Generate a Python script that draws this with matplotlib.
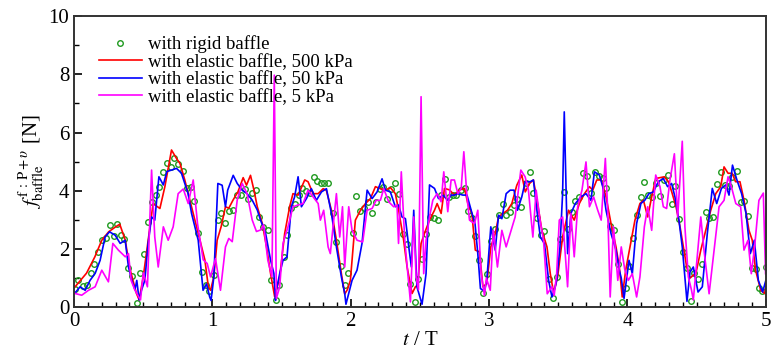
import numpy as np
import matplotlib
matplotlib.use("Agg")
import matplotlib.pyplot as plt
from matplotlib.ticker import MultipleLocator

plt.rcParams['font.family'] = ['Liberation Serif', 'DejaVu Serif']
plt.rcParams['mathtext.fontset'] = 'stix'

    #rigid baffle (circles)
rigid_t = [0.007, 0.031, 0.063, 0.092, 0.12, 0.145, 0.173, 0.20, 0.229, 0.256, 0.285, 0.313, 0.34, 0.364, 0.393, 0.422, 0.453, 0.478,
           0.504, 0.535, 0.56, 0.59, 0.616, 0.645, 0.67, 0.697, 0.723, 0.752, 0.784, 0.813, 0.842, 0.868, 0.897, 0.926, 0.953, 0.978,
           1.01, 1.04, 1.063, 1.094, 1.118, 1.147, 1.175, 1.204, 1.233, 1.257, 1.284, 1.316, 1.336, 1.368, 1.398, 1.426, 1.456,
           1.481, 1.514, 1.54, 1.57, 1.594, 1.623, 1.65, 1.679, 1.708, 1.735, 1.759, 1.783, 1.807, 1.836, 1.872, 1.896, 1.928, 1.956, 1.983,
           2.014, 2.041, 2.07, 2.097, 2.126, 2.152, 2.181, 2.208, 2.235, 2.264, 2.293, 2.32, 2.349, 2.378, 2.404, 2.428, 2.462,
           2.484, 2.513, 2.544, 2.573, 2.6, 2.627, 2.653, 2.682, 2.708, 2.737, 2.764, 2.793, 2.822, 2.846, 2.875, 2.9, 2.93, 2.958,
           2.983, 3.012, 3.04, 3.068, 3.097, 3.123, 3.152, 3.179, 3.205, 3.232, 3.263, 3.292, 3.316, 3.345, 3.374, 3.4, 3.43, 3.459,
           3.488, 3.512, 3.543, 3.57, 3.597, 3.623, 3.652, 3.68, 3.707, 3.735, 3.764, 3.793, 3.822, 3.848, 3.875, 3.9, 3.93, 3.959,
           3.989, 4.013, 4.042, 4.066, 4.095, 4.122, 4.15, 4.178, 4.208, 4.235, 4.264, 4.29, 4.319, 4.343, 4.372, 4.399, 4.428, 4.457,
           4.481, 4.51, 4.541, 4.565, 4.589, 4.621, 4.65, 4.674, 4.705, 4.734, 4.759, 4.791, 4.82, 4.842, 4.871, 4.898, 4.926, 4.95,
           4.974, 5.0]
rigid_f = [0.61, 0.93, 0.73, 0.76, 1.18, 1.48, 1.89, 2.3, 2.39, 2.84, 2.44, 2.87, 2.47, 2.33, 1.34, 1.06, 0.16, 1.19,
           1.83, 2.91, 3.61, 3.87, 4.14, 4.66, 4.95, 4.83, 5.11, 4.93, 4.67, 4.1, 4.14, 3.64, 2.55, 1.20, 0.76, 0.56,
           1.1, 2.99, 3.24, 2.89, 3.29, 3.33, 3.84, 3.87, 4.07, 3.72, 3.93, 4.04, 3.09, 2.75, 2.66, 0.94, 0.25,
           0.75, 1.74, 2.47, 3.42, 3.56, 3.87, 4.11, 3.99, 3.93, 4.48, 4.33, 4.25, 4.27, 4.28, 3.22, 2.25, 1.41, 0.75, 1.18,
           2.55, 3.83, 3.31, 3.39, 3.6, 3.24, 3.6, 4.07, 4.14, 3.7, 4.06, 4.25, 3.9, 2.51, 2.16, 0.81, 0.17,
           0.96, 1.67, 2.52, 3.1, 3.08, 3.01, 3.84, 4.41, 3.8, 3.87, 3.87, 4.03, 4.1, 3.3, 3.05, 2.44, 1.62, 0.5,
           1.13, 2.29, 2.67, 3.17, 3.56, 3.18, 3.27, 3.51, 3.71, 3.45, 4.28, 4.63, 3.91, 3.05, 2.48, 2.61, 0.96, 0.3,
           1.04, 2.33, 3.94, 2.68, 3.26, 3.66, 3.79, 4.6, 4.52, 3.92, 4.65, 4.52, 4.45, 4.08, 2.8, 2.66, 1.47, 0.18,
           0.67, 1.4, 2.39, 3.16, 3.77, 4.3, 3.85, 3.79, 4.25, 3.83, 4.37, 4.54, 3.56, 4.16, 3.03, 1.88, 1.33, 0.21,
           1.17, 0.98, 1.49, 3.27, 3.08, 3.1, 4.22, 4.65, 4.19, 4.15, 4.47, 4.69, 3.6, 3.64, 3.12, 1.33, 1.3, 0.65,
           0.54, 1.37]

    #elastic baffle, 500 kPa (red)
e500_t = [0.007, 0.09, 0.15, 0.20, 0.25, 0.30, 0.33, 0.37, 0.40, 0.45, 0.47, 0.50, 0.535, 0.571, 0.62, 0.656, 0.704, 0.74, 0.765,
          0.80, 0.849, 0.897, 0.945, 0.97, 0.986, 1.01, 1.034, 1.063, 1.094, 1.118, 1.15, 1.184, 1.222, 1.246, 1.275, 1.30, 1.324,
          1.36, 1.391, 1.42, 1.45, 1.462, 1.486, 1.522, 1.558, 1.582, 1.619, 1.667, 1.691, 1.727, 1.764, 1.80, 1.823, 1.86, 1.896,
          1.932, 1.956, 1.975, 1.997, 2.033, 2.07, 2.106, 2.142, 2.178, 2.214, 2.25, 2.286, 2.322, 2.346, 2.382, 2.407, 2.443, 2.467,
          2.484, 2.508, 2.532, 2.569, 2.605, 2.624, 2.653, 2.677, 2.713, 2.749, 2.786, 2.822, 2.846, 2.875, 2.90, 2.93, 2.955, 2.983,
          3.012, 3.044, 3.068, 3.10, 3.133, 3.164, 3.20, 3.236, 3.261, 3.292, 3.32, 3.35, 3.381, 3.418, 3.442, 3.466, 3.495, 3.531,
          3.574, 3.615, 3.652, 3.689, 3.725, 3.749, 3.778, 3.81, 3.845, 3.881, 3.917, 3.941, 3.962, 3.987, 4.018, 4.054, 4.09, 4.115,
          4.146, 4.175, 4.204, 4.235, 4.267, 4.296, 4.32, 4.351, 4.38, 4.404, 4.428, 4.452, 4.476, 4.494, 4.53, 4.566, 4.602, 4.638,
          4.674, 4.698, 4.727, 4.757, 4.781, 4.813, 4.842, 4.878, 4.902, 4.926, 4.963, 4.992, 5.0]
e500_f = [0.70, 1.17, 1.73, 2.30, 2.59, 2.76, 2.85, 2.30, 1.38, 0.48, 0.25, 1.05, 2.3, 3.56, 3.39, 4.14, 5.40, 5.11, 4.94,
          4.37, 3.45, 2.54, 1.63, 0.71, 0.58, 1.04, 2.3, 2.77, 3.45, 3.40, 3.69, 3.96, 4.45, 4.19, 4.53, 4.02, 3.45,
          2.88, 2.07, 1.16, 0.35, 0.58, 1.04, 2.53, 3.45, 3.9, 3.85, 4.37, 4.31, 3.9, 3.9, 4.07, 4.02, 3.33, 2.3,
          1.15, 0.45, 0.6, 0.92, 2.99, 3.33, 3.56, 3.73, 4.14, 4.07, 4.02, 4.11, 3.9, 3.33, 2.3, 1.38, 0.47, 0.7,
          0.76, 2.19, 2.53, 2.99, 3.33, 3.56, 3.22, 4.08, 4.03, 3.85, 4.03, 4.08, 3.56, 3.22, 1.96, 1.9, 0.7, 0.81,
          2.07, 2.53, 3.1, 3.22, 3.33, 3.56, 4.19, 4.54, 3.96, 4.25, 4.37, 3.56, 2.64, 2.07, 1.15, 0.5, 1.04, 2.41,
          3.33, 2.99, 3.56, 3.9, 4.14, 4.02, 4.37, 4.37, 3.79, 2.87, 2.07, 1.38, 0.35, 1.27, 2.07, 2.99, 3.56, 3.68,
          3.1, 3.79, 4.42, 4.45, 4.48, 4.31, 3.96, 3.45, 2.76, 2.07, 1.38, 1.0, 1.1, 1.15, 1.96, 2.64, 3.33, 3.9,
          4.14, 4.82, 4.6, 4.6, 4.31, 4.31, 3.68, 2.64, 2.3, 1.27, 0.58, 0.47, 0.7]

    #elastic baffle, 50 kPa (blue)
e50_t = [0.007, 0.043, 0.08, 0.115, 0.152, 0.188, 0.224, 0.256, 0.297, 0.333, 0.369, 0.393, 0.417, 0.44, 0.453, 0.47, 0.487, 0.511,
         0.535, 0.56, 0.583, 0.613, 0.645, 0.67, 0.704, 0.74, 0.776, 0.824, 0.849, 0.897, 0.932, 0.957, 0.98, 0.99, 1.01, 1.039,
         1.07, 1.094, 1.11, 1.15, 1.179, 1.215, 1.25, 1.287, 1.324, 1.347, 1.384, 1.42, 1.444, 1.456, 1.462, 1.486, 1.51, 1.539,
         1.57, 1.594, 1.619, 1.643, 1.679, 1.715, 1.751, 1.788, 1.824, 1.86, 1.896, 1.932, 1.956, 1.965, 2.009, 2.045, 2.081, 2.118,
         2.154, 2.19, 2.226, 2.25, 2.286, 2.322, 2.346, 2.37, 2.395, 2.419, 2.438, 2.455, 2.478, 2.515, 2.544, 2.569, 2.605, 2.634,
         2.665, 2.701, 2.725, 2.749, 2.774, 2.81, 2.84, 2.87, 2.898, 2.918, 2.937, 2.966, 2.983, 3.012, 3.044, 3.068, 3.092, 3.123,
         3.152, 3.18, 3.205, 3.236, 3.261, 3.297, 3.32, 3.345, 3.37, 3.4, 3.43, 3.454, 3.478, 3.488, 3.512, 3.531, 3.543, 3.567,
         3.591, 3.623, 3.664, 3.7, 3.736, 3.761, 3.797, 3.821, 3.845, 3.881, 3.917, 3.941, 3.955, 3.975, 4.011, 4.035, 4.066, 4.097,
         4.126, 4.155, 4.187, 4.223, 4.259, 4.29, 4.319, 4.343, 4.372, 4.396, 4.43, 4.452, 4.476, 4.51, 4.541, 4.577, 4.613, 4.645,
         4.679, 4.71, 4.734, 4.759, 4.791, 4.825, 4.857, 4.888, 4.917, 4.946, 4.977, 5.0]
e50_f = [0.49, 0.70, 0.58, 0.92, 1.16, 1.61, 2.41, 2.59, 2.47, 2.19, 2.30, 1.38, 0.92, 0.6, 0.92, 0.25, 0.58, 0.92,
         2.19, 3.1, 2.99, 4.48, 4.2, 4.66, 4.71, 4.77, 4.6, 3.9, 3.22, 2.3, 0.58, 0.8, 0.35, 0.23, 1.04, 4.25,
         4.19, 3.45, 4.02, 4.53, 4.25, 4.02, 3.9, 3.68, 3.34, 3.0, 2.54, 1.62, 1.16, 0.23, 0.58, 1.15, 1.61, 1.73,
         3.45, 3.79, 4.48, 3.45, 3.73, 4.07, 3.67, 3.96, 4.07, 3.22, 2.07, 1.04, 0.47, 0.1, 0.92, 1.27, 2.19, 4.02,
         3.73, 3.96, 4.41, 4.02, 3.96, 3.45, 3.51, 3.1, 3.04, 2.07, 1.38, 3.33, 0.7, 0.1, 1.15, 4.2, 4.08, 3.73,
         3.85, 3.67, 3.85, 3.85, 3.9, 3.85, 3.85, 3.33, 2.87, 1.84, 0.64, 0.55, 0.92, 2.76, 1.96, 3.16, 3.04, 3.9,
         4.02, 4.02, 3.33, 3.79, 4.31, 4.31, 4.37, 3.33, 2.41, 2.18, 0.92, 0.35, 0.7, 0.92, 2.07, 3.9, 6.71, 1.84,
         3.22, 3.56, 3.79, 3.9, 3.67, 4.65, 4.54, 4.14, 3.33, 2.53, 1.96, 1.27, 1.0, 0.3, 1.61, 1.15, 2.87, 3.56,
         3.68, 3.9, 3.96, 4.31, 4.42, 4.14, 4.25, 3.79, 2.99, 2.07, 0.2, 1.21, 1.38, 0.52, 0.7, 2.53, 4.08, 3.56,
         4.08, 4.2, 3.85, 4.88, 4.37, 3.9, 3.22, 1.84, 2.3, 0.92, 0.52, 0.92]

    #elastic baffle, 5 kPa (magenta)
e5_t = [0.007, 0.055, 0.104, 0.152, 0.20, 0.248, 0.28, 0.32, 0.37, 0.393, 0.412, 0.44, 0.48, 0.50, 0.53, 0.56, 0.583, 0.608,
        0.645, 0.68, 0.716, 0.752, 0.789, 0.825, 0.861, 0.892, 0.933, 0.962, 0.986, 1.022, 1.058, 1.094, 1.118, 1.143, 1.179,
        1.215, 1.25, 1.287, 1.318, 1.347, 1.37, 1.40, 1.43, 1.447, 1.462, 1.486, 1.51, 1.546, 1.582, 1.619, 1.655, 1.691, 1.727,
        1.764, 1.78, 1.804, 1.836, 1.852, 1.867, 1.896, 1.92, 1.94, 1.956, 1.985, 2.009, 2.045, 2.086, 2.118, 2.154, 2.183, 2.214,
        2.238, 2.274, 2.31, 2.334, 2.345, 2.365, 2.39, 2.419, 2.431, 2.455, 2.472, 2.489, 2.508, 2.527, 2.544, 2.569, 2.593, 2.624,
        2.653, 2.672, 2.701, 2.725, 2.749, 2.774, 2.798, 2.817, 2.84, 2.858, 2.894, 2.918, 2.942, 2.966, 2.98, 3.008, 3.03, 3.06,
        3.092, 3.123, 3.152, 3.188, 3.229, 3.26, 3.284, 3.316, 3.34, 3.368, 3.393, 3.42, 3.454, 3.47, 3.488, 3.507, 3.531, 3.567,
        3.591, 3.615, 3.64, 3.671, 3.7, 3.725, 3.755, 3.785, 3.81, 3.84, 3.857, 3.875, 3.899, 3.93, 3.955, 3.98, 4.006, 4.035,
        4.066, 4.09, 4.122, 4.146, 4.175, 4.204, 4.235, 4.259, 4.283, 4.307, 4.339, 4.363, 4.396, 4.415, 4.44, 4.463, 4.476, 4.53,
        4.553, 4.59, 4.626, 4.662, 4.698, 4.727, 4.751, 4.783, 4.818, 4.842, 4.871, 4.895, 4.919, 4.95, 4.982, 4.998]
e5_f = [0.47, 0.41, 0.58, 0.70, 1.27, 0.87, 2.19, 1.96, 1.73, 1.84, 0.92, 0.58, 0.25, 1.18, 0.70, 4.71, 2.41, 1.38,
        2.76, 2.3, 2.76, 3.9, 4.06, 3.56, 4.37, 2.87, 1.63, 1.5, 1.04, 1.67, 0.58, 2.07, 2.36, 2.25, 3.68,
        4.25, 3.9, 3.0, 2.6, 2.65, 2.83, 1.62, 1.04, 7.97, 0.3, 0.7, 2.19, 2.76, 3.45, 3.51, 3.56, 4.02, 3.79,
        3.56, 2.99, 3.33, 2.07, 1.84, 2.53, 3.9, 2.41, 3.45, 1.38, 3.45, 2.64, 2.3, 2.24, 3.33, 3.39, 3.67, 3.67,
        4.07, 3.62, 3.45, 3.51, 2.19, 4.65, 2.3, 0.81, 0.18, 3.1, 1.04, 0.6, 7.23, 1.15, 2.3, 3.1, 3.68, 3.9,
        3.62, 4.65, 3.28, 4.37, 4.37, 3.9, 4.08, 5.34, 3.79, 2.99, 2.87, 3.33, 1.15, 0.4, 1.0, 0.58, 2.64, 1.38,
        2.64, 2.07, 2.53, 3.1, 4.71, 4.48, 4.02, 2.41, 4.02, 2.99, 2.3, 0.46, 0.7, 0.4, 1.15, 2.99, 3.1, 0.7,
        3.22, 1.73, 3.45, 4.02, 4.99, 3.45, 3.79, 3.33, 2.99, 5.11, 3.33, 0.35, 2.76, 0.92, 2.07, 1.3, 0.92, 1.15,
        0.35, 1.04, 2.76, 3.45, 2.64, 4.54, 4.14, 3.45, 3.39, 4.37, 5.27, 3.1, 5.7, 2.76, 1.04, 0.58, 0.25, 3.1,
        1.96, 0.46, 1.96, 3.45, 3.67, 4.48, 4.14, 3.56, 3.45, 1.96, 2.3, 1.15, 2.07, 3.67, 3.92, 1.15]

labels = ["with rigid baffle", "with elastic baffle, 500 kPa",
          "with elastic baffle, 50 kPa", "with elastic baffle, 5 kPa"]

fig = plt.figure(figsize=(7.72, 3.58), dpi=100)
ax = fig.add_axes([0.096, 0.142, 0.896, 0.813])

ax.plot(rigid_t, rigid_f, 'o', ms=4, mfc='none', mec='#1f9a1f', mew=1.0, label=labels[0])
ax.plot(e500_t, e500_f, color='#ff0000', lw=1.2, label=labels[1])
ax.plot(e50_t, e50_f, color='#0000ff', lw=1.2, label=labels[2])
ax.plot(e5_t, e5_f, color='#ff00ff', lw=1.2, label=labels[3])

ax.set_xlim(0, 5)
ax.set_ylim(0, 10)
ax.xaxis.set_major_locator(MultipleLocator(1))
ax.xaxis.set_minor_locator(MultipleLocator(0.1))
ax.yaxis.set_major_locator(MultipleLocator(2))
ax.yaxis.set_minor_locator(MultipleLocator(1))
ax.tick_params(which='both', direction='in', labelsize=15, colors='black')
ax.tick_params(which='major', length=6, width=1.2)
ax.tick_params(which='minor', length=3.5, width=1.0)
for sp in ax.spines.values():
    sp.set_linewidth(1.4)
    sp.set_color('#333333')

ax.set_xlabel("$t$ / T", fontsize=15, labelpad=0)
ax.set_ylabel(r"$f^{\,\mathrm{f\,:\,P+}\upsilon}_{\mathrm{baffle}}$ [N]", fontsize=15, labelpad=2)

ax.legend(loc='upper left', bbox_to_anchor=(0.025, 0.96), frameon=False, fontsize=13.5,
          handlelength=2.3, handletextpad=0.3, labelspacing=0.02, borderaxespad=0)

fig.savefig("out.png", dpi=100)
